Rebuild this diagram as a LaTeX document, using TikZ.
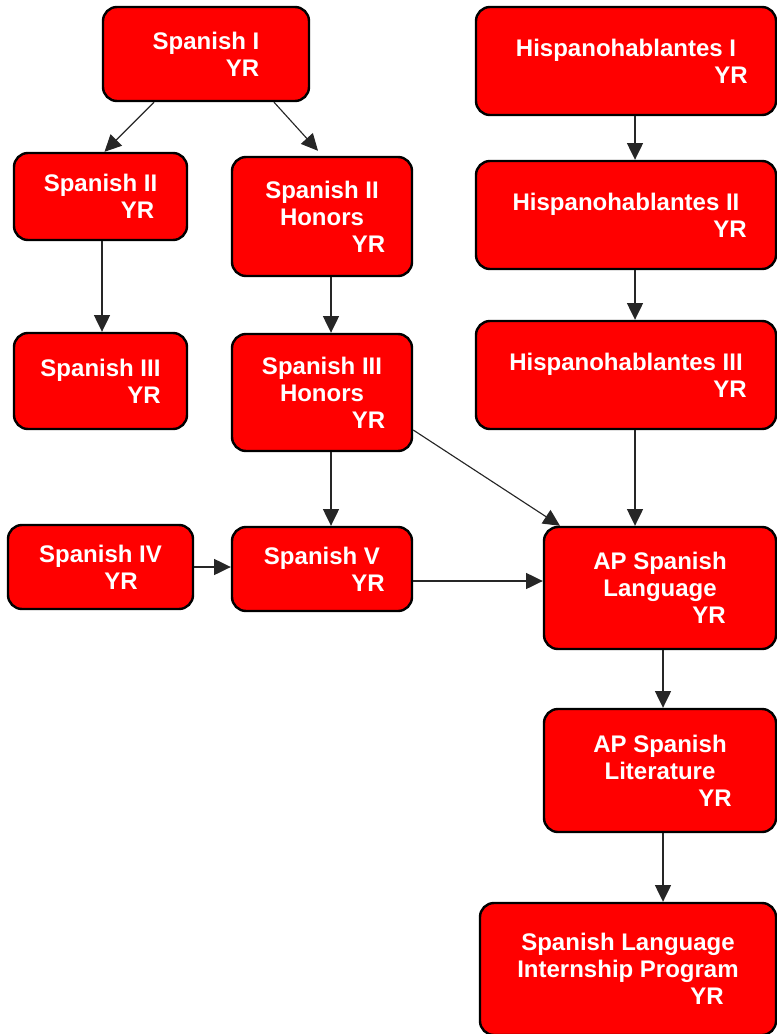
\documentclass[tikz,border=0pt]{standalone}
\usepackage{fontspec}
\setmainfont{Liberation Sans}
\usepackage{tikz}
\usetikzlibrary{arrows.meta,calc}
\newlength\px
\setlength\px{0.75pt}

\begin{document}
\begin{tikzpicture}[x=0.75pt,y=-0.75pt,
  course/.style={rectangle,rounded corners=14\px,draw=black,line width=2.4\px,fill=red,text=white,align=center,inner sep=0,font=\bfseries\fontsize{18}{20.25}\selectfont},
  line/.style={-{Triangle[length=12.5pt,width=12pt]},draw=black!85,line width=0.85pt}]

\useasboundingbox (0,0) rectangle (777,1034);

\node[course, minimum width=206\px, minimum height=94\px]  (spanI)      at (206,54)    {Spanish I\\\hspace*{73\px}YR};
\node[course, minimum width=173\px, minimum height=87\px]  (spanII)     at (100.5,196.5) {Spanish II\\\hspace*{74\px}YR};
\node[course, minimum width=180\px, minimum height=119\px] (spanIIhon)  at (322,216.5) {Spanish II\\Honors\\\hspace*{93\px}YR};
\node[course, minimum width=173\px, minimum height=96\px]  (spanIII)    at (100.5,381) {Spanish III\\\hspace*{87\px}YR};
\node[course, minimum width=180\px, minimum height=117\px] (spanIIIhon) at (322,392.5) {Spanish III\\Honors\\\hspace*{93\px}YR};
\node[course, minimum width=185\px, minimum height=84\px]  (spanIV)     at (100.5,567) {Spanish IV\\\hspace*{41\px}YR};
\node[course, minimum width=180\px, minimum height=84\px]  (spanV)      at (322,569)   {Spanish V\\\hspace*{92\px}YR};

\node[course, minimum width=300\px, minimum height=108\px] (hispI)   at (626,61)  {Hispanohablantes I\\\hspace*{210\px}YR};
\node[course, minimum width=300\px, minimum height=108\px] (hispII)  at (626,215) {Hispanohablantes II\\\hspace*{208\px}YR};
\node[course, minimum width=300\px, minimum height=108\px] (hispIII) at (626,375) {Hispanohablantes III\\\hspace*{208\px}YR};

\node[course, minimum width=232\px, minimum height=122\px] (apLang) at (660,588)   {AP Spanish\\Language\\\hspace*{98\px}YR};
\node[course, minimum width=232\px, minimum height=123\px] (apLit)  at (660,770.5) {AP Spanish\\Literature\\\hspace*{110\px}YR};
\node[course, minimum width=296\px, minimum height=132\px] (intern) at (628,969)   {Spanish Language\\Internship Program\\\hspace*{158\px}YR};

\coordinate (spanVout) at ($(spanV.east)+(0,12)$);

\draw [line] ($(spanI.south)+(-52,0)$)     -- ($(spanII.north)+(4,0)$);
\draw [line] ($(spanI.south)+(68,0)$)      -- ($(spanIIhon.north)+(-4,-5)$);
\draw [line] ($(spanII.south)+(1.5,0)$)    -- ($(spanIII.north)+(1.5,0)$);
\draw [line] ($(spanIIhon.south)+(9,0)$)   -- ($(spanIIIhon.north)+(9,0)$);
\draw [line] ($(spanIIIhon.south)+(9,0)$)  -- ($(spanV.north)+(9,0)$);
\draw [line] ($(spanIIIhon.east)+(0,37.5)$) -- ($(apLang.north)+(-100,0)$);
\draw [line] (spanIV.east) -- (spanIV.east -| spanV.west);
\draw [line] (spanVout) -- (spanVout -| apLang.west);

\draw [line] ($(hispI.south)+(9,0)$)   -- ($(hispII.north)+(9,0)$);
\draw [line] ($(hispII.south)+(9,0)$)  -- ($(hispIII.north)+(9,0)$);
\draw [line] ($(hispIII.south)+(9,0)$) -- ($(apLang.north)+(-25,0)$);

\draw [line] ($(apLang.south)+(3,0)$) -- ($(apLit.north)+(3,0)$);
\draw [line] ($(apLit.south)+(3,0)$)  -- ($(intern.north)+(35,0)$);
\end{tikzpicture}
\end{document}
